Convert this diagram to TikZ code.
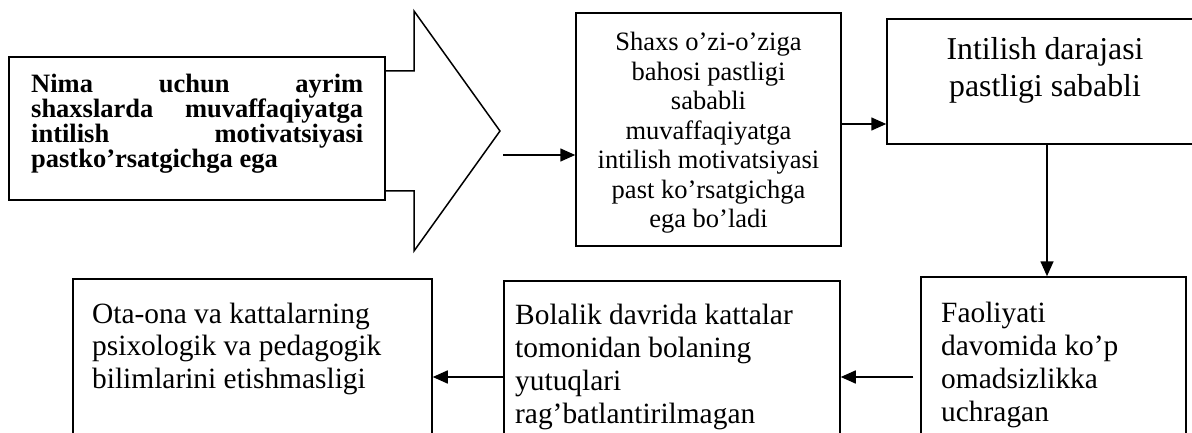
\documentclass[tikz,border=0pt]{standalone}
\usepackage{fontspec}
\setmainfont{Liberation Serif}
\usetikzlibrary{arrows.meta,calc}
\tikzset{
  box/.style={draw, line width=1.5pt, inner sep=0pt, fill=none},
  txt/.style={inner sep=0pt, anchor=base west},
  conn/.style={line width=1.6pt, -{Triangle[length=15pt,width=13pt]}},
}
\begin{document}
\begin{tikzpicture}[x=1pt,y=-1pt]
\useasboundingbox (0,0) rectangle (1192,433);
\clip (0,0) rectangle (1192,433);
% boxes
\node[box, minimum width=376pt, minimum height=143pt] (lb) at (197,128.5) {};
\node[box, minimum width=265pt, minimum height=233pt] (mid) at (708.5,129.5) {};
\node[box, minimum width=323pt, minimum height=125pt] (rt) at (1048.5,81.5) {};
\node[box, minimum width=359pt, minimum height=191pt] (bl) at (252.5,374.5) {};
\node[box, minimum width=336pt, minimum height=189pt] (bm) at (672,375.5) {};
\node[box, minimum width=265pt, minimum height=193pt] (br) at (1053.5,373.5) {};
% big block arrow
\draw[line width=1.5pt, line join=miter]
  (lb.east |- 0,71) -- (414,71) -- (414,11) -- (500,131) -- (414,251) -- (414,191) -- (lb.east |- 0,191);
% texts
\node[txt] (tlb) at (31,93) {\parbox[t]{332pt}{\fontsize{26.5}{25}\selectfont\bfseries
Nima\hfill uchun\hfill ayrim\\
shaxslarda\hfill muvaffaqiyatga\\
intilish\hfill motivatsiyasi\\
pastko’rsatgichga ega}};
\node[txt, anchor=base] (tmid) at (708.5,51) {\parbox[t]{260pt}{\centering\fontsize{26.5}{29.5}\selectfont
Shaxs o’zi-o’ziga\\ bahosi pastligi\\ sababli\\ muvaffaqiyatga\\ intilish motivatsiyasi\\ past ko’rsatgichga\\ ega bo’ladi}};
\node[txt, anchor=base] (trt) at (1045,60) {\parbox[t]{300pt}{\centering\fontsize{31.8}{37}\selectfont
Intilish darajasi\\ pastligi sababli}};
\node[txt] (tbl) at (92,323) {\parbox[t]{335pt}{\raggedright\fontsize{29.4}{32.5}\selectfont
Ota-ona va kattalarning\\ psixologik va pedagogik\\ bilimlarini etishmasligi}};
\node[txt] (tbm) at (515,324) {\parbox[t]{320pt}{\raggedright\fontsize{29.4}{33}\selectfont
Bolalik davrida kattalar\\ tomonidan bolaning\\ yutuqlari\\ rag’batlantirilmagan}};
\node[txt] (tbr) at (941,322) {\parbox[t]{240pt}{\raggedright\fontsize{29.4}{33}\selectfont
Faoliyati\\ davomida ko’p\\ omadsizlikka\\ uchragan}};
% connectors
\coordinate (s1) at (503,155);
\coordinate (c1) at (0,124);
\coordinate (c2) at (1047,0);
\coordinate (c3) at (0,377);
\draw[conn] (s1) -- (mid.west |- s1);
\draw[conn] (mid.east |- c1) -- (rt.west |- c1);
\draw[conn] (rt.south -| c2) -- (br.north -| c2);
\draw[conn, shorten <=7pt] (br.west |- c3) -- (bm.east |- c3);
\draw[conn] (bm.west |- c3) -- (bl.east |- c3);
\end{tikzpicture}
\end{document}
